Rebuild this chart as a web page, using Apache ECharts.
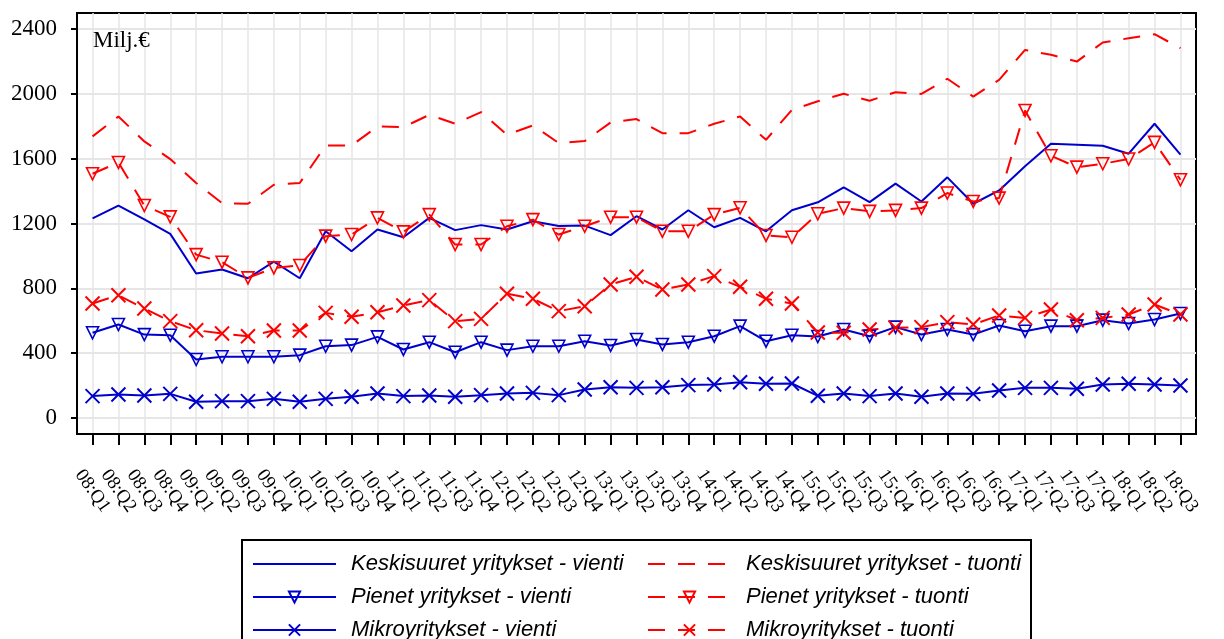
<!DOCTYPE html>
<html><head><meta charset="utf-8">
<script src="https://cdn.jsdelivr.net/npm/echarts@6/dist/echarts.min.js"></script>
<style>html,body{margin:0;padding:0;background:#fff}#c{width:1224px;height:639px}</style>
</head><body><div id="c"></div><script>
const categories = ['08:Q1','08:Q2','08:Q3','08:Q4','09:Q1','09:Q2','09:Q3','09:Q4','10:Q1','10:Q2','10:Q3','10:Q4',
  '11:Q1','11:Q2','11:Q3','11:Q4','12:Q1','12:Q2','12:Q3','12:Q4','13:Q1','13:Q2','13:Q3','13:Q4',
  '14:Q1','14:Q2','14:Q3','14:Q4','15:Q1','15:Q2','15:Q3','15:Q4','16:Q1','16:Q2','16:Q3','16:Q4',
  '17:Q1','17:Q2','17:Q3','17:Q4','18:Q1','18:Q2','18:Q3'];
const yTicks = [0, 400, 800, 1200, 1600, 2000, 2400];
const keskiVienti = [1231,1311,1225,1136,891,916,862,965,862,1152,1029,1163,1115,1235,1159,1190,1163,1214,1184,1187,1128,1245,1163,1282,1177,1235,1152,1282,1331,1423,1332,1446,1336,1485,1322,1404,1553,1692,1686,1680,1631,1816,1625];
const keskiTuonti = [1738,1861,1707,1598,1450,1326,1322,1439,1450,1682,1682,1799,1795,1871,1816,1888,1748,1806,1697,1709,1824,1845,1758,1758,1816,1861,1717,1902,1955,2001,1958,2011,2000,2094,1984,2087,2272,2242,2200,2318,2344,2369,2283];
const pienetVienti = [525,576,514,510,360,377,377,377,387,442,449,500,422,467,405,467,418,442,442,473,447,484,453,467,504,566,473,510,502,545,504,560,514,545,514,570,535,566,566,603,582,607,644];
const pienetTuonti = [1507,1577,1311,1241,1008,961,864,926,941,1122,1132,1235,1148,1255,1070,1070,1183,1224,1132,1183,1239,1239,1152,1152,1255,1297,1126,1115,1260,1295,1275,1281,1295,1388,1336,1357,1898,1618,1548,1569,1598,1701,1470];
const mikroVienti = [134,144,138,148,99,103,103,117,99,117,130,150,134,138,130,140,150,154,140,175,189,185,189,202,206,220,210,212,136,150,134,150,130,150,148,169,185,185,179,206,210,206,200];
const mikroTuonti = [706,757,675,597,541,521,504,539,539,648,624,652,694,727,597,611,766,735,659,689,823,871,792,823,875,809,735,706,527,525,545,556,560,591,576,632,617,669,603,617,638,700,638];
const seriesNames = ['Keskisuuret yritykset - vienti','Keskisuuret yritykset - tuonti','Pienet yritykset - vienti','Pienet yritykset - tuonti','Mikroyritykset - vienti','Mikroyritykset - tuonti'];

const BLUE = '#0000cc', RED = '#ff0000';
const DASH = [17, 13];
const tickIdx = categories.map((c, i) => i);
const toPairs = arr => arr.map((v, i) => [i, v]);
const NONE = {symbol: 'circle', symbolSize: 2, showSymbol: false};
const TRI = {symbol: 'triangle', symbolRotate: 180, symbolSize: [12, 12]};
const XS = {symbol: 'path://M0,0L10,10M10,0L0,10', symbolSize: 14};

function mk(name, data, color, dashed, sym) {
  const bw = sym === XS ? 2 : (sym === TRI ? 1.6 : 0);
  return Object.assign({
    name, type: 'line', data: toPairs(data), animation: false,
    lineStyle: {color, width: 2, type: dashed ? DASH : 'solid'},
    itemStyle: {color: 'rgba(0,0,0,0)', borderColor: bw ? color : 'rgba(0,0,0,0)', borderWidth: bw},
    showSymbol: true, emphasis: {disabled: true}
  }, sym);
}

const chart = echarts.init(document.getElementById('c'), null, {renderer: 'canvas'});
chart.setOption({
  backgroundColor: '#fff',
  animation: false,
  title: {text: 'Milj.€', left: 88, top: 24, textStyle: {fontFamily: 'Liberation Serif', fontSize: 23, fontWeight: 'normal', color: '#000'}},
  grid: {left: 77, right: 28, top: 13, height: 421, show: true, borderColor: '#000', borderWidth: 2, backgroundColor: 'transparent'},
  xAxis: {
    type: 'value', min: -0.6, max: 42.6,
    axisLine: {show: true, onZero: false, lineStyle: {color: '#000', width: 2}},
    axisTick: {show: true, customValues: tickIdx, length: 11, lineStyle: {color: '#000', width: 2}},
    axisLabel: {customValues: tickIdx, formatter: v => categories[Math.round(v)] || '', rotate: -55, align: 'center', verticalAlign: 'middle', margin: 57,
      fontFamily: 'Liberation Serif', fontSize: 19, color: '#000'},
    splitLine: {show: true, lineStyle: {color: '#e6e6e6', width: 1.5}}
  },
  yAxis: {
    type: 'value', min: -100, max: 2500,
    axisLine: {show: true, onZero: false, lineStyle: {color: '#000', width: 2}},
    axisTick: {show: true, customValues: yTicks, length: 6, lineStyle: {color: '#000', width: 2}},
    axisLabel: {customValues: yTicks, formatter: v => String(v), margin: 20, fontFamily: 'Liberation Serif', fontSize: 23, color: '#000'},
    splitLine: {show: true, lineStyle: {color: '#e6e6e6', width: 2}}
  },
  legend: {
    data: seriesNames, left: 242, top: 540, width: 790, orient: 'horizontal',
    itemWidth: 83, itemHeight: 14, itemGap: 11,
    borderColor: '#000', borderWidth: 2, padding: [13, 0, 12, 10],
    textStyle: {fontFamily: 'Liberation Sans', fontStyle: 'italic', fontSize: 22, color: '#000', width: 285, lineHeight: 14, padding: [0, 0, 0, 10]},
    selectedMode: false
  },
  series: [
    mk(seriesNames[0], keskiVienti, BLUE, false, NONE),
    mk(seriesNames[1], keskiTuonti, RED, true, NONE),
    mk(seriesNames[2], pienetVienti, BLUE, false, TRI),
    mk(seriesNames[3], pienetTuonti, RED, true, TRI),
    mk(seriesNames[4], mikroVienti, BLUE, false, XS),
    mk(seriesNames[5], mikroTuonti, RED, true, XS)
  ]
});
</script></body></html>
